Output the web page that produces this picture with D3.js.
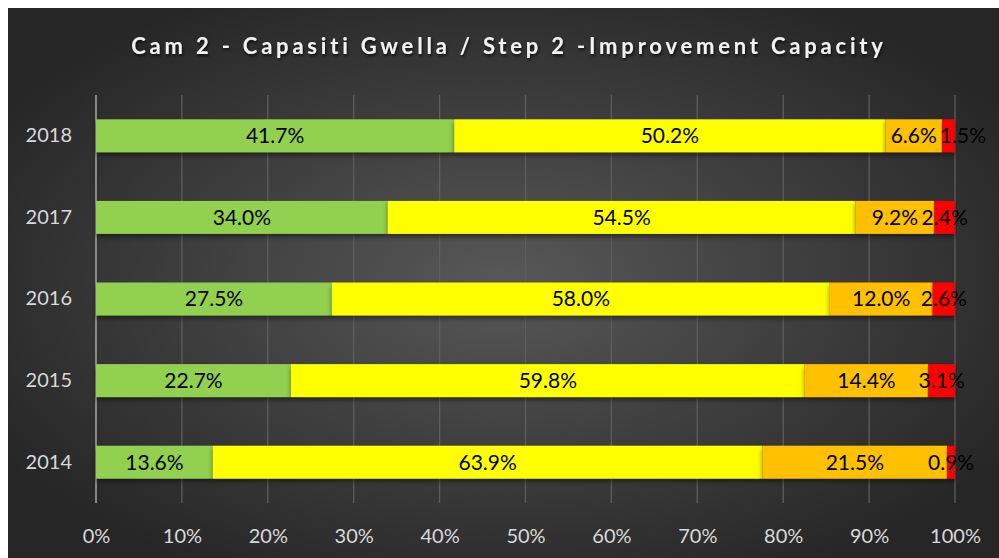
<!DOCTYPE html>
<html><head><meta charset="utf-8">
<script src="https://cdn.jsdelivr.net/npm/d3@7"></script>
<style>body{margin:0;background:#fff;}svg{display:block;}</style>
</head><body>
<svg id="c" width="999" height="558"></svg>
<script>
const years = ["2018","2017","2016","2015","2014"];
const seriesNames = ["s1","s2","s3","s4"];
const s1 = [41.7, 34.0, 27.5, 22.7, 13.6];
const s2 = [50.2, 54.5, 58.0, 59.8, 63.9];
const s3 = [6.6, 9.2, 12.0, 14.4, 21.5];
const s4 = [1.5, 2.4, 2.6, 3.1, 0.9];
const colors = ["#92D050","#FFFF00","#FFC000","#FF0000"];
const xTicks = [0,0.1,0.2,0.3,0.4,0.5,0.6,0.7,0.8,0.9,1];
const title = "Cam 2 - Capasiti Gwella / Step 2 -Improvement Capacity";

const svg = d3.select("#c");
const defs = svg.append("defs");
const rg = defs.append("radialGradient").attr("id","bg").attr("cx","50%").attr("cy","50%").attr("r","60%");
rg.append("stop").attr("offset","0%").attr("stop-color","#585858");
rg.append("stop").attr("offset","100%").attr("stop-color","#262626");
const f = defs.append("filter").attr("id","sh").attr("x","-5%").attr("y","-20%").attr("width","110%").attr("height","160%");
f.append("feDropShadow").attr("dx",0).attr("dy",3).attr("stdDeviation",2.5).attr("flood-color","#000").attr("flood-opacity",0.45);
const ft = defs.append("filter").attr("id","tsh");
ft.append("feDropShadow").attr("dx",1).attr("dy",2).attr("stdDeviation",1.5).attr("flood-color","#000").attr("flood-opacity",0.7);

svg.append("rect").attr("x",8).attr("y",8).attr("width",991).attr("height",550).attr("fill","url(#bg)");

svg.append("text").attr("x",509).attr("y",54).attr("text-anchor","middle")
  .attr("font-family","Lato, 'Open Sans', sans-serif").attr("font-weight","bold").attr("font-size",22)
  .attr("letter-spacing","3.8px").attr("fill","#f2f2f2").attr("filter","url(#tsh)").text(title);

const x = d3.scaleLinear().domain([0,1]).range([96,955]);
const y = d3.scaleBand().domain(years).range([95,503]).paddingInner(0.596).paddingOuter(0.298);

const data = years.map((yr,i)=>({year:yr, s1:s1[i], s2:s2[i], s3:s3[i], s4:s4[i]}));
const stack = d3.stack().keys(seriesNames).offset(d3.stackOffsetExpand);
const layers = stack(data);

// gridlines
svg.append("g").selectAll("line").data(xTicks.slice(1)).join("line")
  .attr("x1",d=>x(d)).attr("x2",d=>x(d)).attr("y1",95).attr("y2",503)
  .attr("stroke","#5e5e5e").attr("stroke-width",1.3);
svg.append("line").attr("x1",x(0)).attr("x2",x(0)).attr("y1",95).attr("y2",503)
  .attr("stroke","#a6a6a6").attr("stroke-width",1.5);

// bars
const bg = svg.append("g");
layers.forEach((layer,k)=>{
  bg.append("g").selectAll("rect").data(layer).join("rect")
    .attr("x",d=>x(d[0])).attr("width",d=>x(d[1])-x(d[0]))
    .attr("y",d=>y(d.data.year)).attr("height",y.bandwidth())
    .attr("fill",colors[k]).attr("filter","url(#sh)");
});
// labels with simple collision avoidance (shift right if overlapping previous)
const lg = svg.append("g").attr("font-family","Lato, sans-serif").attr("font-size",21).attr("fill","#000").attr("text-anchor","middle");
years.forEach((yr,i)=>{
  let prevRight = -Infinity;
  layers.forEach((layer,k)=>{
    const d = layer[i];
    const t = lg.append("text")
      .attr("x",(x(d[0])+x(d[1]))/2).attr("y",y(yr)+y.bandwidth()/2)
      .attr("dy","0.35em").text(d.data[seriesNames[k]].toFixed(1)+"%");
    const w = t.node().getComputedTextLength();
    let cx = (x(d[0])+x(d[1]))/2;
    if (cx - w/2 < prevRight + 3) { cx = prevRight + 3 + w/2; t.attr("x",cx); }
    prevRight = cx + w/2;
  });
});

// y axis labels
const ya = svg.append("g").attr("transform","translate(96,0)")
  .call(d3.axisLeft(y).tickSize(0).tickPadding(24));
ya.select(".domain").remove();
ya.selectAll("text").attr("font-family","Lato, sans-serif").attr("font-size",20).attr("fill","#d9d9d9");

// x axis
const xa = svg.append("g").attr("transform","translate(0,503)")
  .call(d3.axisBottom(x).tickValues(xTicks).tickFormat(d3.format(".0%")).tickSize(0).tickPadding(26));
xa.select(".domain").remove();
xa.selectAll("text").attr("font-family","Lato, sans-serif").attr("font-size",20).attr("fill","#d9d9d9");
</script>
</body></html>
